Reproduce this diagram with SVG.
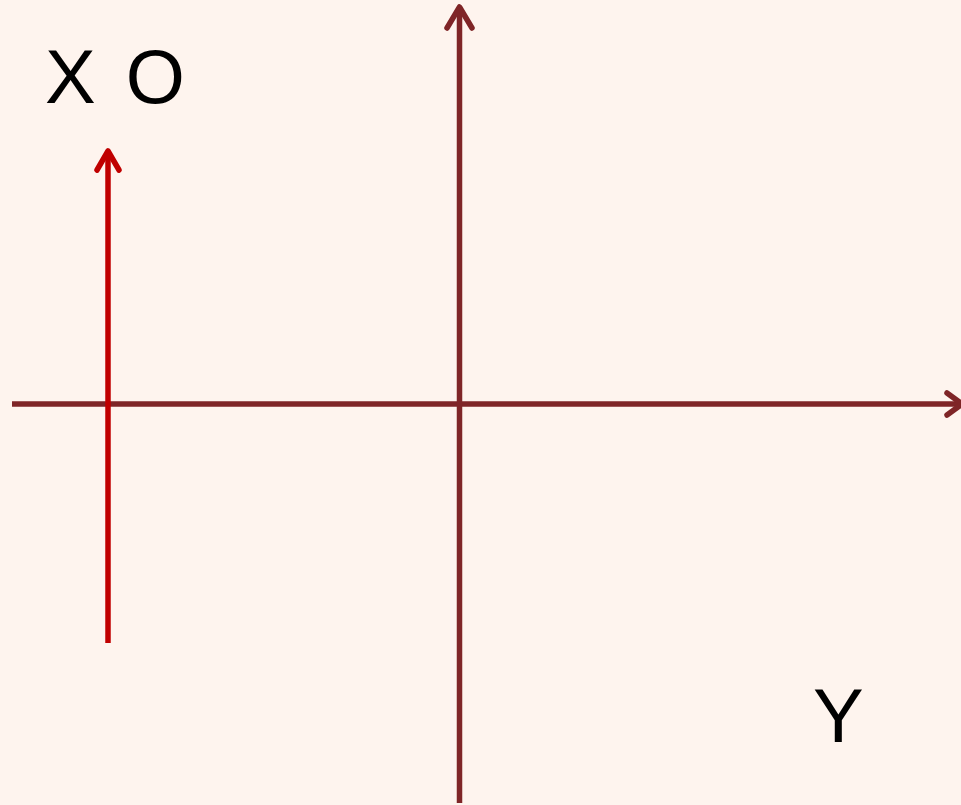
<svg xmlns="http://www.w3.org/2000/svg" width="961" height="805" viewBox="0 0 961 805">
<defs>
<style>
.axis{stroke:#7F2527;stroke-width:5.5;fill:none;stroke-linecap:round;stroke-linejoin:round}
.red{stroke:#C00000;stroke-width:5.5;fill:none;stroke-linecap:round;stroke-linejoin:round}
.lbl{font-family:"Liberation Sans",Arial,sans-serif;font-size:76px;fill:#000}
</style>
</defs>
<rect width="961" height="805" fill="#FEF4EE"/>
<g id="connectors">
<line class="axis" x1="12" y1="404" x2="960" y2="404" style="stroke-linecap:butt"/>
<polyline class="axis" points="947,393 962,404 947,415"/>
<line class="axis" x1="459.5" y1="803" x2="459.5" y2="8" style="stroke-linecap:butt"/>
<polyline class="axis" points="447,28 459.5,7 472,28"/>
<line class="red" x1="108" y1="643" x2="108" y2="152" style="stroke-linecap:butt"/>
<polyline class="red" points="97,170 108,151 119,170"/>
</g>
<g id="label-xo"><text class="lbl" x="45" y="103" xml:space="preserve">X <tspan dx="9">O</tspan></text></g>
<g id="label-y"><text class="lbl" x="813" y="742">Y</text></g>
</svg>
